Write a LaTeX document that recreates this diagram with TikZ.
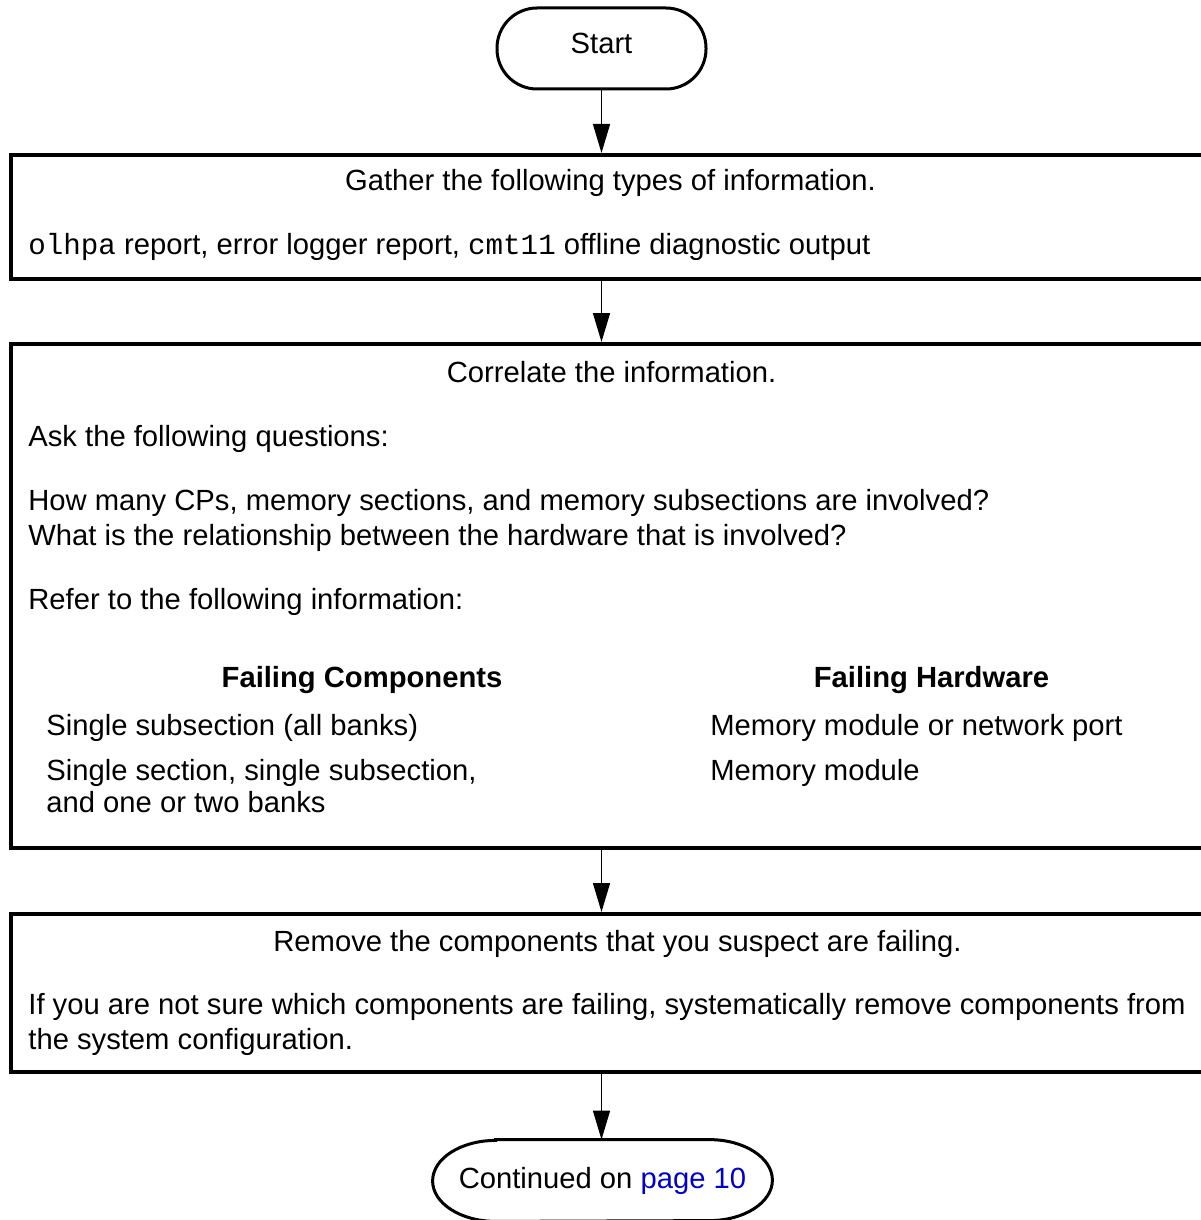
\documentclass[tikz,border=0pt]{standalone}
\usepackage{fontspec}
\setmainfont{Liberation Sans}
\setmonofont{Liberation Mono}
\usetikzlibrary{arrows.meta, positioning}
\definecolor{linkblue}{RGB}{0,0,204}

\begin{document}
\begin{tikzpicture}[x=0.5pt, y=-0.5pt,
    every node/.style={font=\fontsize{14.6}{17.5}\selectfont, inner sep=0pt},
    terminal/.style={draw, line width=1.5pt, rounded corners=20pt},
    stepbox/.style={draw, line width=2pt, minimum width=601.5pt},
    txt/.style={anchor=base west},
    ctxt/.style={anchor=base},
    flow/.style={-{Triangle[length=14.5pt, width=8.5pt]}, line width=0.7pt}]
    \useasboundingbox (0,0) rectangle (1200,1220);

    % Start terminal
    \node[terminal, minimum width=104.5pt, minimum height=40.5pt,
          text height=10.5pt, text depth=5.5pt] (start) at (601.5,48.5) {Start};

    % Gather box
    \node[stepbox, minimum height=61.75pt] (gather) at (612.5,216.75) {};
    \node[ctxt] (gathertitle) at (610.5,190.5) {Gather the following types of information.};
    \node[txt] (gatherlist) at (28,254.5)
        {\texttt{olhpa} report, error logger report, \texttt{cmt11} offline diagnostic output};

    % Correlate box
    \node[stepbox, minimum height=252pt] (correlate) at (612.5,596) {};
    \node[ctxt] (corrtitle) at (611.5,382.5) {Correlate the information.};
    \node[txt] (askline) at (28,446.5) {Ask the following questions:};
    \node[txt] (howline) at (28,510.5) {How many CPs, memory sections, and memory subsections are involved?};
    \node[txt] (whatline) at (28,545.5) {What is the relationship between the hardware that is involved?};
    \node[txt] (referline) at (28,609.5) {Refer to the following information:};

    % Failing table
    \node[ctxt, font=\fontsize{14.6}{17.5}\selectfont\bfseries] (compshead) at (362,687) {Failing Components};
    \node[ctxt, font=\fontsize{14.6}{17.5}\selectfont\bfseries] (hwhead) at (931.5,687) {Failing Hardware};
    \node[txt] (compone) at (46,735) {Single subsection (all banks)};
    \node[txt] (comptwo) at (46,780) {Single section, single subsection,};
    \node[txt] (comptwob) at (46,812) {and one or two banks};
    \node[txt] (hwone) at (710,735) {Memory module or network port};
    \node[txt] (hwtwo) at (710,780) {Memory module};

    % Remove box
    \node[stepbox, minimum height=79pt] (remove) at (612.5,993) {};
    \node[ctxt] (removetitle) at (617.5,951.5) {Remove the components that you suspect are failing.};
    \node[txt] (removeone) at (28,1014.5)
        {If you are not sure which components are failing, systematically remove components from};
    \node[txt] (removetwo) at (28,1049.5) {the system configuration.};

    % Continued terminal
    \node[minimum width=169.5pt, minimum height=40.5pt] (cont) at (602.5,1180.5)
        {Continued on \textcolor{linkblue}{page 10}};
    \draw[line width=1.5pt] ([xshift=31.5pt]cont.north west) -- ([xshift=-31.5pt]cont.north east)
        arc[start angle=90, end angle=-90, x radius=31.5pt, y radius=20.25pt]
        -- ([xshift=31.5pt]cont.south west)
        arc[start angle=270, end angle=90, x radius=31.5pt, y radius=20.25pt] -- cycle;

    % Connectors
    \draw[flow] (start.south) -- (start.south |- gather.north);
    \draw[flow] (start.south |- gather.south) -- (start.south |- correlate.north);
    \draw[flow] (start.south |- correlate.south) -- (start.south |- remove.north);
    \draw[flow] (start.south |- remove.south) -- (start.south |- cont.north);
\end{tikzpicture}
\end{document}
